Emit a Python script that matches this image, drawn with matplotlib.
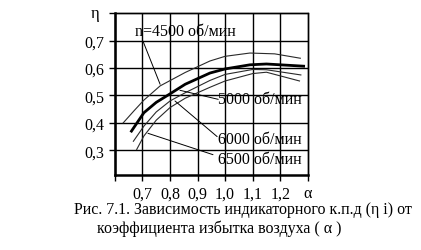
import matplotlib
matplotlib.use("Agg")
import matplotlib.pyplot as plt

plt.rcParams['font.family'] = ['Liberation Serif', 'DejaVu Serif']
plt.rcParams['axes.spines.top'] = True
plt.rcParams['axes.spines.right'] = True

# curves: alpha -> eta
alpha_4500 = [0.63, 0.67, 0.705, 0.764, 0.855, 0.945, 1.0, 1.09, 1.18, 1.273]
eta_4500 = [0.400, 0.445, 0.483, 0.535, 0.584, 0.626, 0.643, 0.655, 0.652, 0.636]

alpha_5000 = [0.66, 0.705, 0.75, 0.8, 0.855, 0.945, 1.0, 1.09, 1.15, 1.285]
eta_5000 = [0.370, 0.437, 0.475, 0.506, 0.541, 0.582, 0.597, 0.612, 0.615, 0.607]

alpha_6000 = [0.667, 0.705, 0.75, 0.8, 0.855, 0.945, 1.0, 1.1, 1.15, 1.275]
eta_6000 = [0.333, 0.388, 0.440, 0.480, 0.510, 0.555, 0.577, 0.595, 0.594, 0.575]

alpha_6500 = [0.679, 0.705, 0.75, 0.8, 0.855, 0.945, 1.0, 1.1, 1.15, 1.27]
eta_6500 = [0.303, 0.352, 0.410, 0.456, 0.490, 0.530, 0.553, 0.580, 0.585, 0.553]

x_ticks = [0.6, 0.7, 0.8, 0.9, 1.0, 1.1, 1.2, 1.3]
x_labels = ['', '0,7', '0,8', '0,9', '1,0', '1,1', '1,2', 'α']
y_ticks = [0.3, 0.4, 0.5, 0.6, 0.7, 0.8]
y_labels = ['0,3', '0,4', '0,5', '0,6', '0,7', '']

fig = plt.figure(figsize=(4.21, 2.51), dpi=100)
ax = fig.add_axes([0.273, 0.299, 0.458, 0.644])

ax.set_xlim(0.6, 1.3)
ax.set_ylim(0.21, 0.8)

# grid lines
ax.vlines(x_ticks, 0.21, 0.8, colors='black', linewidths=1.0, zorder=2, clip_on=False)
ax.hlines(y_ticks, 0.6, 1.3, colors='black', linewidths=1.0, zorder=2, clip_on=False)

ax.plot(alpha_4500, eta_4500, color='#2a2a2a', lw=0.8, zorder=3)
ax.plot(alpha_5000, eta_5000, color='black', lw=2.0, zorder=3)
ax.plot(alpha_6000, eta_6000, color='#2a2a2a', lw=0.8, zorder=3)
ax.plot(alpha_6500, eta_6500, color='#2a2a2a', lw=0.8, zorder=3)

ax.set_xticks(x_ticks)
ax.set_xticklabels(x_labels)
ax.set_yticks(y_ticks)
ax.set_yticklabels(y_labels)
ax.tick_params(labelsize=11.5, direction='out', length=4, width=1, color='black')

for side in ['left', 'bottom']:
    ax.spines[side].set_visible(True)
    ax.spines[side].set_linewidth(1.8)
for side in ['top', 'right']:
    ax.spines[side].set_visible(True)
    ax.spines[side].set_linewidth(1.0)

ax.text(-0.08, 1.0, 'η', transform=ax.transAxes, fontsize=12, ha='right', va='center')

fs = 11.5
lead = dict(arrowstyle='-', color='black', lw=0.7, shrinkA=0, shrinkB=0)
ax.annotate('', xy=(0.764, 0.541), xytext=(0.702, 0.698), arrowprops=lead)
ax.text(0.673, 0.735, 'n=4500 об/мин', fontsize=fs, va='center')
ax.annotate('', xy=(0.836, 0.519), xytext=(0.975, 0.486), arrowprops=lead)
ax.text(0.975, 0.486, '5000 об/мин', fontsize=fs, va='center')
ax.annotate('', xy=(0.818, 0.480), xytext=(0.971, 0.350), arrowprops=lead)
ax.text(0.975, 0.340, '6000 об/мин', fontsize=fs, va='center')
ax.annotate('', xy=(0.720, 0.362), xytext=(0.956, 0.284), arrowprops=lead)
ax.text(0.975, 0.270, '6500 об/мин', fontsize=fs, va='center')

fig.text(243 / 421, 1 - 210 / 251, 'Рис. 7.1. Зависимость индикаторного к.п.д (η i) от',
         fontsize=11.5, ha='center', va='center')
fig.text(219 / 421, 1 - 229 / 251, 'коэффициента избытка воздуха ( α )',
         fontsize=11.5, ha='center', va='center')

fig.savefig('out.png', dpi=100, facecolor='white')
